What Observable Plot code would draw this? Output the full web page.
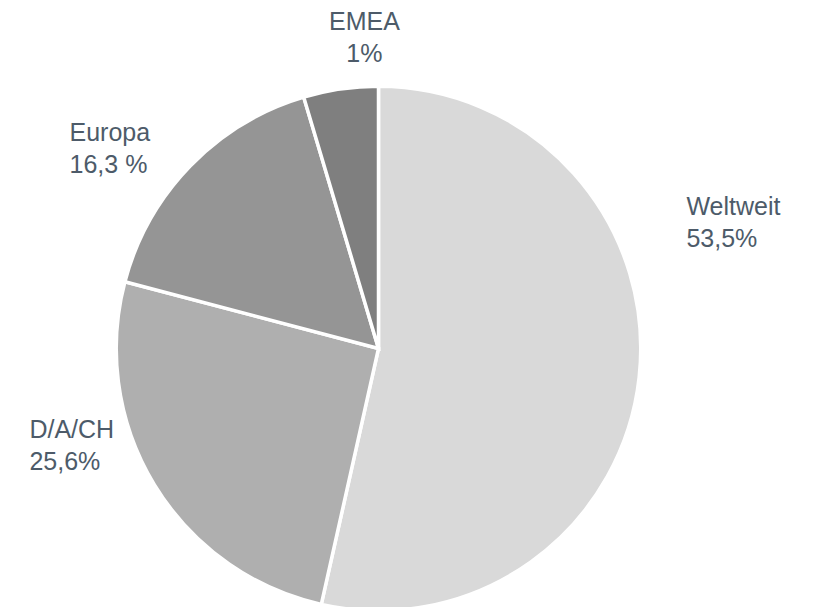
<!DOCTYPE html>
<html>
<head>
<meta charset="utf-8">
<script src="https://cdn.jsdelivr.net/npm/d3@7"></script>
<script src="https://cdn.jsdelivr.net/npm/@observablehq/plot@0.6"></script>
<style>
  html, body { margin: 0; padding: 0; background: #ffffff; }
  #chart svg { display: block; }
</style>
</head>
<body>
<div id="chart"></div>
<script>
// ---- data ----
const regions = ["Weltweit", "D/A/CH", "Europa", "EMEA"];
const shares = [53.5, 25.6, 16.3, 4.6];           // slice sizes as drawn
const shareLabels = ["53,5%", "25,6%", "16,3 %", "1%"]; // labels as printed
const sliceColors = ["#d9d9d9", "#afafaf", "#959595", "#7f7f7f"];

// ---- label layout (in pie-radius units, relative to centre) ----
const labelX = [1.180, -1.342, -1.188, -0.056];
const labelY = [0.392, -0.466, 0.675, 1.101];
const labelAnchor = ["start", "start", "start", "middle"];

const table = regions.map((region, i) => ({
  region,
  value: shares[i],
  label: shareLabels[i],
  lx: labelX[i],
  ly: labelY[i],
  anchor: labelAnchor[i]
}));

const W = 816, H = 607;
const cx = 378.5, cy = 348.5, R = 260.5;
const STROKE = 3.5;

function pieMark(index, scales) {
  const x = scales.x, y = scales.y;
  const ox = x(0), oy = y(0), r = x(1) - x(0);
  const color = scales.color ?? d3.scaleOrdinal(regions, sliceColors);
  const arcs = d3.pie().sort(null).value(d => d.value)(table);
  const arc = d3.arc().innerRadius(0).outerRadius(r + STROKE / 2);
  const g = d3.create("svg:g").attr("transform", `translate(${ox},${oy})`);
  g.selectAll("path")
    .data(arcs)
    .join("path")
    .attr("d", arc)
    .attr("fill", d => color(d.data.region))
    .attr("stroke", "#ffffff")
    .attr("stroke-width", STROKE)
    .attr("stroke-linejoin", "miter");
  return g.node();
}

const textStyle = {
  fill: "#4d5b69",
  fontSize: 25,
  fontFamily: "'Liberation Sans', Arial, sans-serif",
  lineAnchor: "bottom",
  lineHeight: 1.28
};

const chart = Plot.plot({
  width: W,
  height: H,
  margin: 0,
  style: { background: "#ffffff", overflow: "visible" },
  x: { domain: [-1, 1], range: [cx - R, cx + R], axis: null },
  y: { domain: [-1, 1], range: [cy + R, cy - R], axis: null },
  color: { domain: regions, range: sliceColors },
  marks: [
    pieMark,
    Plot.text(table.filter(d => d.anchor === "start"), {
      x: "lx", y: "ly",
      text: d => `${d.region}\n${d.label}`,
      textAnchor: "start",
      ...textStyle
    }),
    Plot.text(table.filter(d => d.anchor === "middle"), {
      x: "lx", y: "ly",
      text: d => `${d.region}\n${d.label}`,
      textAnchor: "middle",
      ...textStyle
    })
  ]
});

document.getElementById("chart").appendChild(chart);
</script>
</body>
</html>
